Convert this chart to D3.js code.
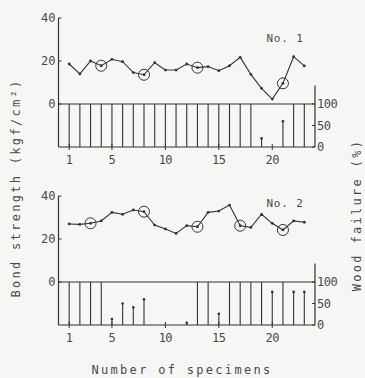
<!DOCTYPE html>
<html>
<head>
<meta charset="utf-8">
<script src="https://cdn.jsdelivr.net/npm/d3@7"></script>
<style>
  body { margin: 0; background: #f6f6f4; }
  svg text { font-family: "DejaVu Sans Mono", monospace; fill: #4a4a4a; }
</style>
</head>
<body>
<div id="chart"></div>
<script>
// specimen numbers 1..23
var specimens = [1,2,3,4,5,6,7,8,9,10,11,12,13,14,15,16,17,18,19,20,21,22,23];

// No. 1 : bond strength (kgf/cm2) and wood failure (%)
var bond1 = [18.6,14,20,17.8,20.8,19.7,14.6,13.6,19.2,15.8,15.8,18.6,16.9,17.4,15.5,17.8,21.7,13.8,7.3,2.3,9.6,22,17.7];
var wood1 = [100,100,100,100,100,100,100,100,100,100,100,100,100,100,100,100,100,100,20,0,60,100,100];
var circled1 = [4,8,13,21];

// No. 2
var bond2 = [27,26.8,27.3,28.4,32.4,31.5,33.5,32.7,26.5,24.7,22.6,26.2,25.7,32.4,33,35.8,26.2,25.4,31.5,27.3,24.2,28.4,27.8];
var wood2 = [100,100,100,100,14,50,41,60,0,0,0,5,100,100,26,100,100,100,100,77,100,77,77];
var circled2 = [3,8,13,17,21];

var xTicks = [1,5,10,15,20];
var bondTicks = [0,20,40];
var woodTicks = [0,50,100];

var w = 365, h = 378;
var ink = "#333";

var svg = d3.select("#chart")
            .append("svg")
            .attr("width", w)
            .attr("height", h);

var x = d3.scaleLinear().domain([0, 24]).range([58.5, 315]);

function panel(top, bond, wood, circled, label, labelY) {
  // top = pixel of the 40 tick
  var yBond = d3.scaleLinear().domain([0, 40]).range([top + 86, top]);
  var yWood = d3.scaleLinear().domain([0, 100]).range([top + 129, top + 86]);
  var g = svg.append("g");
  var x0 = x.range()[0], x1 = x.range()[1];

  // left axis line
  g.append("line")
   .attr("x1", x0).attr("x2", x0)
   .attr("y1", yBond(40)).attr("y2", yWood(0))
   .attr("stroke", ink).attr("stroke-width", 1.2);

  // right axis line (runs a bit above 100)
  g.append("line")
   .attr("x1", x1).attr("x2", x1)
   .attr("y1", yWood(143)).attr("y2", yWood(0))
   .attr("stroke", ink).attr("stroke-width", 1.2);

  // zero line / 100% line and bottom line
  [yBond(0), yWood(0)].forEach(function(yy) {
    g.append("line")
     .attr("x1", x0).attr("x2", x1)
     .attr("y1", yy).attr("y2", yy)
     .attr("stroke", ink).attr("stroke-width", 1.2);
  });

  // bond ticks + labels
  g.selectAll(".bt")
   .data(bondTicks)
   .enter()
   .append("line")
   .attr("x1", x0).attr("x2", x0 + 3)
   .attr("y1", function(d) { return yBond(d); })
   .attr("y2", function(d) { return yBond(d); })
   .attr("stroke", ink);
  g.selectAll(".bl")
   .data(bondTicks)
   .enter()
   .append("text")
   .attr("x", x0 - 3)
   .attr("y", function(d) { return yBond(d) + 4; })
   .attr("text-anchor", "end")
   .attr("font-size", 12)
   .text(function(d) { return d; });

  // wood ticks + labels
  g.selectAll(".wt")
   .data(woodTicks)
   .enter()
   .append("line")
   .attr("x1", x1 - 3).attr("x2", x1)
   .attr("y1", function(d) { return yWood(d); })
   .attr("y2", function(d) { return yWood(d); })
   .attr("stroke", ink);
  g.selectAll(".wl")
   .data(woodTicks)
   .enter()
   .append("text")
   .attr("x", x1 + 2)
   .attr("y", function(d) { return yWood(d) + 4; })
   .attr("font-size", 12)
   .attr("letter-spacing", -0.5)
   .text(function(d) { return d; });

  // x ticks + labels
  g.selectAll(".xt")
   .data(xTicks)
   .enter()
   .append("line")
   .attr("x1", function(d) { return x(d); })
   .attr("x2", function(d) { return x(d); })
   .attr("y1", yWood(0) - 3).attr("y2", yWood(0) + 3)
   .attr("stroke", ink);
  g.selectAll(".xl")
   .data(xTicks)
   .enter()
   .append("text")
   .attr("x", function(d) { return x(d); })
   .attr("y", yWood(0) + 17)
   .attr("text-anchor", "middle")
   .attr("font-size", 12)
   .attr("letter-spacing", -0.5)
   .text(function(d) { return d; });

  // wood failure bars
  g.selectAll(".bar")
   .data(wood)
   .enter()
   .append("line")
   .attr("x1", function(d, i) { return x(specimens[i]); })
   .attr("x2", function(d, i) { return x(specimens[i]); })
   .attr("y1", yWood(0))
   .attr("y2", function(d) { return yWood(d); })
   .attr("stroke", ink).attr("stroke-width", 1.1);
  var partial = wood.map(function(d, i) { return { s: specimens[i], v: d }; })
                    .filter(function(d) { return d.v > 0 && d.v < 100; });
  g.selectAll(".bartop")
   .data(partial)
   .enter()
   .append("circle")
   .attr("cx", function(d) { return x(d.s); })
   .attr("cy", function(d) { return yWood(d.v); })
   .attr("r", 1.3)
   .attr("fill", ink);

  // bond strength line
  var line = d3.line()
               .x(function(d, i) { return x(specimens[i]); })
               .y(function(d) { return yBond(d); });
  g.append("path")
   .datum(bond)
   .attr("d", line)
   .attr("fill", "none")
   .attr("stroke", ink)
   .attr("stroke-width", 1.1);
  g.selectAll(".dot")
   .data(bond)
   .enter()
   .append("circle")
   .attr("cx", function(d, i) { return x(specimens[i]); })
   .attr("cy", function(d) { return yBond(d); })
   .attr("r", 1.4)
   .attr("fill", ink);
  g.selectAll(".ring")
   .data(circled)
   .enter()
   .append("circle")
   .attr("cx", function(d) { return x(d); })
   .attr("cy", function(d) { return yBond(bond[d - 1]); })
   .attr("r", 5.5)
   .attr("fill", "none")
   .attr("stroke", ink)
   .attr("stroke-width", 1);

  g.append("text")
   .attr("x", 285)
   .attr("y", labelY)
   .attr("text-anchor", "middle")
   .attr("font-size", 11)
   .attr("letter-spacing", 0.8)
   .text(label);
}

panel(18, bond1, wood1, circled1, "No. 1", 42);
panel(196, bond2, wood2, circled2, "No. 2", 207);

// axis titles
svg.append("text")
   .attr("transform", "translate(20,188) rotate(-90)")
   .attr("text-anchor", "middle")
   .attr("font-size", 12)
   .attr("letter-spacing", 2.3)
   .text("Bond strength (kgf/cm²)");

svg.append("text")
   .attr("transform", "translate(361,215) rotate(-90)")
   .attr("text-anchor", "middle")
   .attr("font-size", 12)
   .attr("letter-spacing", 2.3)
   .text("Wood failure (%)");

svg.append("text")
   .attr("x", 182)
   .attr("y", 374)
   .attr("text-anchor", "middle")
   .attr("font-size", 12)
   .attr("letter-spacing", 2.3)
   .text("Number of specimens");
</script>
</body>
</html>
